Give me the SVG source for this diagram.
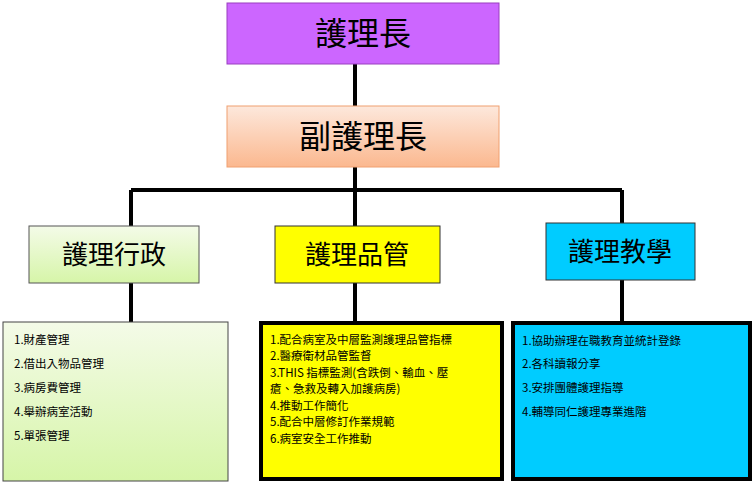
<svg xmlns="http://www.w3.org/2000/svg" width="756" height="486" viewBox="0 0 756 486">
<style>
.t{font-family:"Noto Sans CJK TC","Noto Sans CJK SC",sans-serif;fill:#000}
.big{font-size:32px;text-anchor:middle}
.mid{font-size:26px;text-anchor:middle}
.s{font-size:11.5px}
.ln{stroke:#000;stroke-width:4;fill:none}
</style>
<defs>
<linearGradient id="pe" x1="0" y1="0" x2="0" y2="1"><stop offset="0" stop-color="#fde8dc"/><stop offset="1" stop-color="#fbb88f"/></linearGradient>
<linearGradient id="gr" x1="0" y1="0" x2="0" y2="1"><stop offset="0" stop-color="#f4fbe8"/><stop offset="1" stop-color="#d6f5a8"/></linearGradient>
</defs>
<g id="connectors">
<path class="ln" d="M355 64V106M355 167V190M131 190H622M131 190V226M355 190V226M622 190V223M131 283V322M355 283V321M622 280V321"/>
</g>
<g id="n1"><rect x="227" y="3" width="272" height="61" fill="#cc66ff" stroke="#9a3fbf"/><text class="t big" x="363" y="45">護理長</text></g>
<g id="n2"><rect x="227" y="106" width="272" height="61" fill="url(#pe)" stroke="#f0a070"/><text class="t big" x="363" y="148">副護理長</text></g>
<g id="n3"><rect x="29" y="226" width="170" height="57" fill="url(#gr)" stroke="#555"/><text class="t mid" x="114" y="264">護理行政</text></g>
<g id="n4"><rect x="275" y="226" width="165" height="57" fill="#ffff00" stroke="#333"/><text class="t mid" x="357" y="264">護理品管</text></g>
<g id="n5"><rect x="546" y="223" width="149" height="57" fill="#00ccff" stroke="#333"/><text class="t mid" x="620" y="261">護理教學</text></g>
<g id="n6"><rect x="3" y="322" width="225" height="159" fill="url(#gr)" stroke="#444"/>
<text class="t s" x="14" y="344">1.財產管理</text>
<text class="t s" x="14" y="368">2.借出入物品管理</text>
<text class="t s" x="14" y="392">3.病房費管理</text>
<text class="t s" x="14" y="416">4.舉辦病室活動</text>
<text class="t s" x="14" y="440">5.單張管理</text></g>
<g id="n7"><rect x="261" y="323" width="241" height="156" fill="#ffff00" stroke="#000" stroke-width="4"/>
<text class="t s" x="270" y="344">1.配合病室及中層監測護理品管指標</text>
<text class="t s" x="270" y="360">2.醫療衛材品管監督</text>
<text class="t s" x="270" y="377">3.THIS 指標監測(含跌倒、輸血、壓</text>
<text class="t s" x="270" y="393">瘡、急救及轉入加護病房)</text>
<text class="t s" x="270" y="410">4.推動工作簡化</text>
<text class="t s" x="270" y="426">5.配合中層修訂作業規範</text>
<text class="t s" x="270" y="443">6.病室安全工作推動</text></g>
<g id="n8"><rect x="513" y="323" width="237" height="156" fill="#00ccff" stroke="#000" stroke-width="4"/>
<text class="t s" x="522" y="345">1.協助辦理在職教育並統計登錄</text>
<text class="t s" x="522" y="368">2.各科讀報分享</text>
<text class="t s" x="522" y="392">3.安排團體護理指導</text>
<text class="t s" x="522" y="416">4.輔導同仁護理專業進階</text></g>
</svg>
